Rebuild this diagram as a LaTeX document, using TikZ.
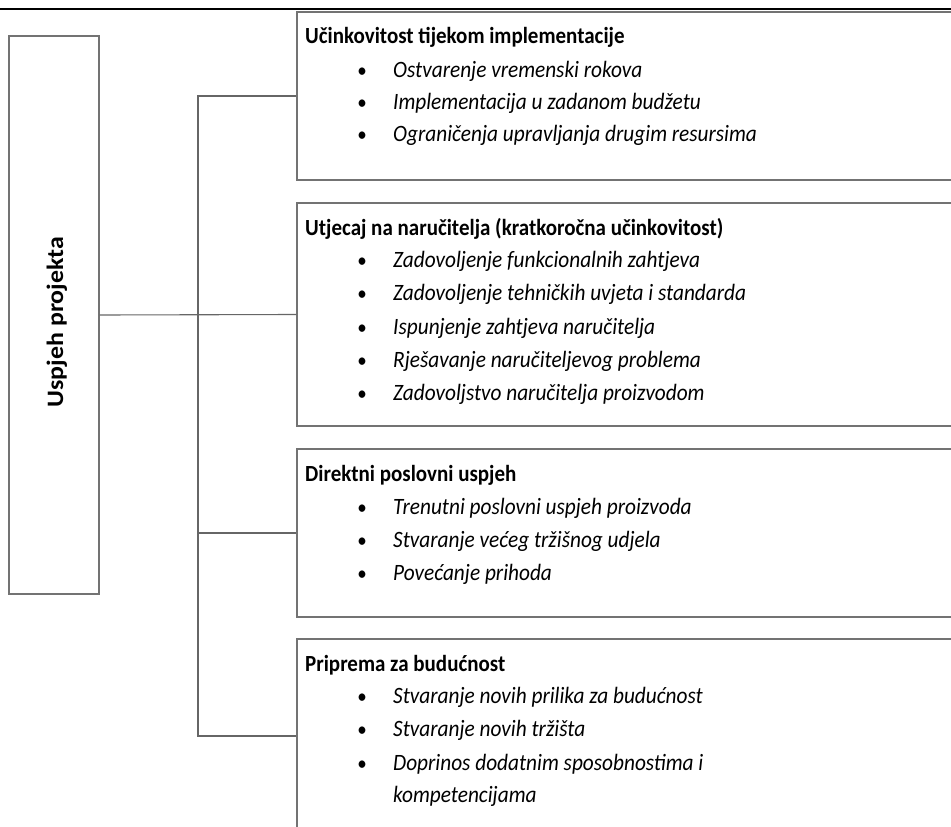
\documentclass[tikz,border=0pt]{standalone}
\usepackage{fontspec}
\setmainfont{Carlito}
\begin{document}
\begin{tikzpicture}[x=1pt,y=-1pt,
  box/.style={draw=black!55, line width=1.1pt, rectangle, inner sep=0pt},
  conn/.style={draw=black!60, line width=1.1pt},
  rule/.style={draw=black, line width=1.5pt},
  ttl/.style={font=\fontsize{21}{25}\selectfont\bfseries, anchor=base west, inner sep=0pt, yscale=1.1},
  itm/.style={font=\fontsize{21.3}{25}\selectfont\itshape, anchor=base west, inner sep=0pt, yscale=1.1},
  bul/.style={font=\fontsize{19}{25}\selectfont, anchor=base, inner sep=0pt, yscale=1.1},
  roottxt/.style={font=\fontsize{23.5}{25}\selectfont\bfseries, anchor=base, inner sep=0pt, yscale=1.1, rotate=90}]
\useasboundingbox (0,0) rectangle (951,827);
\clip (0,0) rectangle (951,827);
\fill[white] (0,0) rectangle (951,827);
% top rule
\coordinate (rl) at (0,9);
\coordinate (rr) at (951,9);
\draw[rule] (rl) -- (rr);
% root box
\node[box, minimum width=90pt, minimum height=558pt] (root) at (54,315) {};
\node[roottxt] (roott) at (63,322) {Uspjeh projekta};
% category boxes
\node[box, minimum width=663pt, minimum height=168pt] (b1) at (628.5,96) {};
\node[box, minimum width=663pt, minimum height=223pt] (b2) at (628.5,314.5) {};
\node[box, minimum width=663pt, minimum height=168pt] (b3) at (628.5,533) {};
\node[box, minimum width=663pt, minimum height=194pt] (b4) at (628.5,736) {};
% connectors
\coordinate (trunk) at (198,0);
\draw[conn] (b1.west) -- (b1.west -| trunk) -- (b4.west -| trunk) -- (b4.west);
\draw[conn] (root.east) -- (b2.west);
\draw[conn] (b3.west -| trunk) -- (b3.west);
% box 1
\node[ttl] (t1) at (305,43) {Učinkovitost tijekom implementacije};
\node[bul] (p11) at (362,77) {•};
\node[itm] (i11) at (393,77) {Ostvarenje vremenski rokova};
\node[bul] (p12) at (362,109) {•};
\node[itm] (i12) at (393,109) {Implementacija u zadanom budžetu};
\node[bul] (p13) at (362,141) {•};
\node[itm] (i13) at (393,141) {Ograničenja upravljanja drugim resursima};
% box 2
\node[ttl] (t2) at (305,235) {Utjecaj na naručitelja (kratkoročna učinkovitost)};
\node[bul] (p21) at (362,267) {•};
\node[itm] (i21) at (393,267) {Zadovoljenje funkcionalnih zahtjeva};
\node[bul] (p22) at (362,300.5) {•};
\node[itm] (i22) at (393,300.5) {Zadovoljenje tehničkih uvjeta i standarda};
\node[bul] (p23) at (362,334) {•};
\node[itm] (i23) at (393,334) {Ispunjenje zahtjeva naručitelja};
\node[bul] (p24) at (362,367) {•};
\node[itm] (i24) at (393,367) {Rješavanje naručiteljevog problema};
\node[bul] (p25) at (362,400) {•};
\node[itm] (i25) at (393,400) {Zadovoljstvo naručitelja proizvodom};
% box 3
\node[ttl] (t3) at (305,481) {Direktni poslovni uspjeh};
\node[bul] (p31) at (362,514) {•};
\node[itm] (i31) at (393,514) {Trenutni poslovni uspjeh proizvoda};
\node[bul] (p32) at (362,547) {•};
\node[itm] (i32) at (393,547) {Stvaranje većeg tržišnog udjela};
\node[bul] (p33) at (362,580) {•};
\node[itm] (i33) at (393,580) {Povećanje prihoda};
% box 4
\node[ttl] (t4) at (305,671) {Priprema za budućnost};
\node[bul] (p41) at (362,703) {•};
\node[itm] (i41) at (393,703) {Stvaranje novih prilika za budućnost};
\node[bul] (p42) at (362,736.5) {•};
\node[itm] (i42) at (393,736.5) {Stvaranje novih tržišta};
\node[bul] (p43) at (362,770) {•};
\node[itm] (i43) at (393,770) {Doprinos dodatnim sposobnostima i};
\node[itm] (i44) at (393,802) {kompetencijama};
\end{tikzpicture}
\end{document}
